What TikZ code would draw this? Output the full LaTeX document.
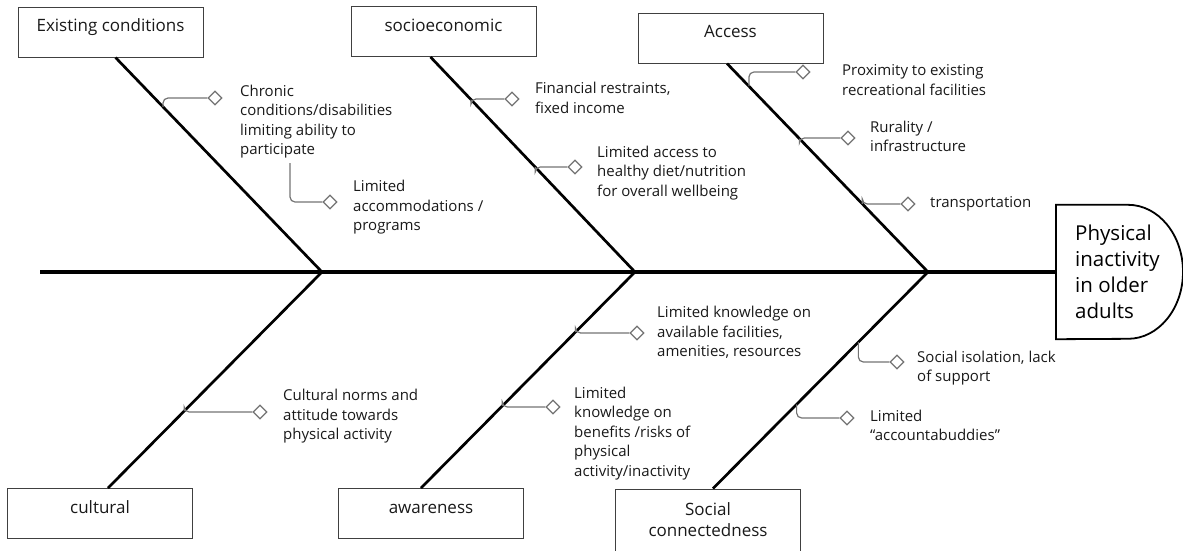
\documentclass[tikz,border=0pt]{standalone}
\usepackage{fontspec}
\setmainfont{Open Sans}
\usetikzlibrary{calc,positioning,shapes.geometric}

\begin{document}
\begin{tikzpicture}[
  x=1pt, y=-1pt,
  cause/.style={draw=black!75, line width=1pt, minimum width=185, minimum height=50,
    font=\fontsize{17}{21}\selectfont, text=black!90},
  causetop/.style={cause, text height=13pt, text depth=14pt},
  bone/.style={line width=2.7pt},
  twig/.style={draw=black!55, line width=1.2pt, rounded corners=5pt},
  knob/.style={diamond, draw=black!55, line width=1.2pt, fill=white, inner sep=0pt,
    minimum size=14},
  itemtext/.style={anchor=west, align=left, inner sep=0pt,
    font=\fontsize{15}{19.5}\selectfont, text=black!90}
]
\useasboundingbox (0,0) rectangle (1183,550);

% categories
\node[causetop] (ec) at (110.5,32) {Existing conditions};
\node[causetop] (se) at (443.5,31.5) {socioeconomic};
\node[causetop] (ac) at (730.5,38) {Access};
\node[causetop] (cu) at (100,513.5) {cultural};
\node[causetop] (aw) at (431,513.5) {awareness};
\node[cause, minimum height=62, align=center] (sc) at (708,520) {Social\\connectedness};

% effect
\node[anchor=west, inner xsep=19, inner ysep=0, minimum height=134, align=left,
  font=\fontsize{20.5}{26}\selectfont] (eff) at (1056,272) {Physical\\inactivity\\in older\\adults};
\draw[line width=1.8pt] (eff.north west) -- ++(72,0)
  arc[start angle=90, end angle=-90, x radius=55pt, y radius=67pt] -- (eff.south west) -- cycle;

% spine and bones
\coordinate (tail) at (40,272);
\coordinate (j1) at (322,272);
\coordinate (j2) at (635,272);
\coordinate (j3) at (928,272);
\draw[bone, line width=3.4pt] (tail) -- (eff.west);

\coordinate (ecb) at ($(ec.south)+(5,0)$);
\coordinate (seb) at ($(se.south)+(-13,0)$);
\coordinate (acb) at ($(ac.south)+(-3.5,0)$);
\coordinate (cub) at ($(cu.north)+(8,0)$);
\coordinate (awb) at ($(aw.north)+(-10,0)$);
\coordinate (scb) at ($(sc.north)+(5,0)$);
\draw[bone] (ecb) -- (j1);
\draw[bone] (seb) -- (j2);
\draw[bone] (acb) -- (j3);
\draw[bone] (j1) -- (cub);
\draw[bone] (j2) -- (awb);
\draw[bone] (j3) -- (scb);

% existing conditions
\node[knob] (ec1d) at (215,98) {};
\node[itemtext] (ec1) at (240,121.5) {Chronic\\conditions/disabilities\\limiting ability to\\participate};
\node[knob] (ec2d) at (330,202) {};
\node[itemtext] (ec2) at (353,207.5) {Limited\\accommodations /\\programs};
\coordinate (ec2s) at (290,163);
\draw[twig] ($(ecb)!0.23!(j1)$) |- (ec1d);
\draw[twig] (ec2s) |- (ec2d);

% socioeconomic
\node[knob] (se1d) at (512,99) {};
\node[itemtext] (se1) at (535,98) {Financial restraints,\\fixed income};
\node[knob] (se2d) at (575,167) {};
\node[itemtext] (se2) at (597,173) {Limited access to\\healthy diet/nutrition\\for overall wellbeing};
\draw[twig] ($(seb)!0.198!(j2)$) |- (se1d);
\draw[twig] ($(seb)!0.512!(j2)$) |- (se2d);

% access
\node[knob] (ac1d) at (803,72) {};
\node[itemtext] (ac1) at (842,80) {Proximity to existing\\recreational facilities};
\node[knob] (ac2d) at (848,138) {};
\node[itemtext] (ac2) at (870,136.5) {Rurality /\\infrastructure};
\node[knob] (ac3d) at (908,204) {};
\node[itemtext] (ac3) at (930,204) {transportation};
\draw[twig] ($(acb)!0.109!(j3)$) |- (ac1d);
\draw[twig] ($(acb)!0.36!(j3)$) |- (ac2d);
\draw[twig] ($(acb)!0.673!(j3)$) |- (ac3d);

% cultural
\node[knob] (cu1d) at (260,412) {};
\node[itemtext] (cu1) at (283,416.5) {Cultural norms and\\attitude towards\\physical activity};
\draw[twig] ($(j1)!0.644!(cub)$) |- (cu1d);

% awareness
\node[knob] (aw1d) at (637,333) {};
\node[itemtext] (aw1) at (657,332.5) {Limited knowledge on\\available facilities,\\amenities, resources};
\node[knob] (aw2d) at (553,407) {};
\node[itemtext] (aw2) at (574,433.5) {Limited\\knowledge on\\benefits /risks of\\physical\\activity/inactivity};
\draw[twig] ($(j2)!0.278!(awb)$) |- (aw1d);
\draw[twig] ($(j2)!0.62!(awb)$) |- (aw2d);

% social connectedness
\node[knob] (sc1d) at (897,362) {};
\node[itemtext] (sc1) at (917,368) {Social isolation, lack\\of support};
\node[knob] (sc2d) at (847,418) {};
\node[itemtext] (sc2) at (870,425.5) {Limited\\“accountabuddies”};
\draw[twig] ($(j3)!0.324!(scb)$) |- (sc1d);
\draw[twig] ($(j3)!0.611!(scb)$) |- (sc2d);
\end{tikzpicture}
\end{document}
